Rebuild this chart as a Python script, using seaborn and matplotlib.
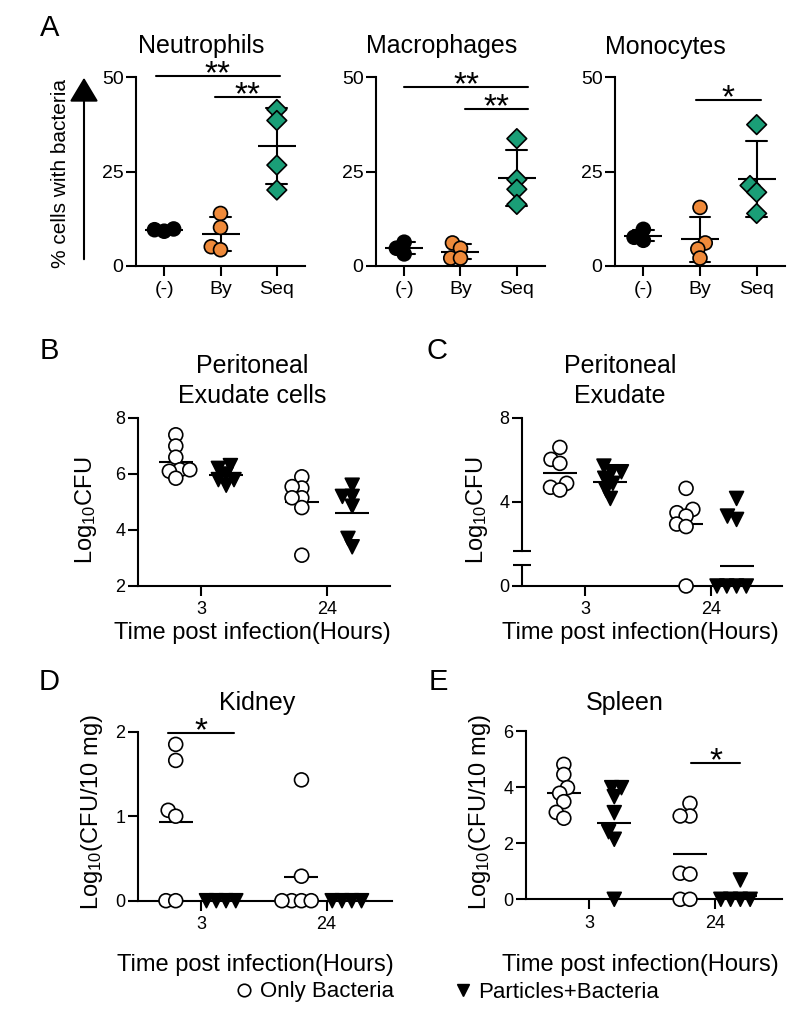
import numpy as np
import pandas as pd
import seaborn as sns
import matplotlib.pyplot as plt
from matplotlib.lines import Line2D
from matplotlib.patches import FancyArrowPatch

# ---- panel A: % cells with bacteria ----
cell_groups = ["(-)", "By", "Seq"]
neu_ctrl = [9.8, 9.2, 9.6]
neu_by = [13.9, 10.2, 5.1, 4.3]
neu_seq = [41.4, 38.5, 26.7, 20.1]
mac_ctrl = [6.3, 3.2, 4.7]
mac_by = [6.1, 4.7, 2.1, 2.1]
mac_seq = [33.7, 22.9, 20.3, 16.3]
mono_ctrl = [9.7, 6.8, 7.6]
mono_by = [15.5, 6.1, 4.5, 2.1]
mono_seq = [37.4, 21.3, 19.5, 13.9]

# ---- panels B-E: log10 CFU at 3 and 24 h ----
times = ["3", "24"]
treatments = ["Only Bacteria", "Particles+Bacteria"]

pec_bact_3 = [7.4, 7.0, 6.6, 6.15, 6.15, 6.1, 5.85]
pec_part_3 = [6.3, 6.2, 6.0, 5.8, 5.8, 5.6]
pec_bact_24 = [5.9, 5.5, 5.55, 5.15, 5.15, 4.8, 3.1]
pec_part_24 = [5.6, 5.2, 5.2, 4.85, 3.7, 3.4]
pec_means = [6.44, 5.97, 5.0, 4.6]

pe_bact_3 = [6.6, 6.03, 5.84, 4.89, 4.7, 4.57]
pe_part_3 = [5.71, 5.44, 5.44, 5.13, 4.89, 4.57, 4.17]
pe_bact_24 = [4.65, 3.65, 3.49, 3.33, 2.95, 2.83, 0]
pe_part_24 = [4.17, 3.33, 3.17, 0, 0, 0, 0]
pe_means = [5.37, 4.97, 2.95, 0.95]

kid_bact_3 = [1.85, 1.66, 1.07, 1.0, 0, 0]
kid_part_3 = [0, 0, 0, 0]
kid_bact_24 = [1.43, 0.29, 0, 0, 0, 0]
kid_part_24 = [0, 0, 0, 0]
kid_means = [0.93, 0, 0.28, 0]

spl_bact_3 = [4.81, 4.45, 3.98, 3.78, 3.48, 3.1, 2.89]
spl_part_3 = [3.98, 3.98, 3.66, 3.09, 2.41, 2.14, 0]
spl_bact_24 = [3.42, 2.97, 2.97, 0.93, 0.9, 0, 0]
spl_part_24 = [0.69, 0, 0, 0, 0]
spl_means = [3.78, 2.71, 1.62, 0.12]

cell_colors = {"(-)": "black", "By": "#EF8A3A", "Seq": "#1A9E77"}
treat_colors = {"Only Bacteria": "white", "Particles+Bacteria": "black"}

sns.set_theme(style="ticks")
plt.rcParams["font.family"] = ["Liberation Sans", "DejaVu Sans"]
plt.rcParams["mathtext.fontset"] = "custom"
plt.rcParams["mathtext.rm"] = "Liberation Sans"
plt.rcParams["mathtext.default"] = "regular"
plt.rcParams.update({"text.color": "black", "axes.labelcolor": "black",
                     "xtick.color": "black", "ytick.color": "black"})

W, H = 800, 1028
SWARM = 5.5    # marker size used to lay out the swarm
FINAL = 10     # marker size actually drawn (GraphPad-like overlap)

fig = plt.figure(figsize=(W / 100, H / 100), dpi=100)


def fx(px):
    return px / W


def fy(py):
    return 1 - py / H


def make_ax(x0, x1, ytop, ybot):
    return fig.add_axes([fx(x0), fy(ybot), (x1 - x0) / W, (ybot - ytop) / H])


def style_ax(ax, yticks, ylim, xlim, labelsize):
    sns.despine(ax=ax)
    for s in ("left", "bottom"):
        ax.spines[s].set_linewidth(1.5)
        ax.spines[s].set_color("black")
    ax.tick_params(width=1.5, length=7, colors="black", labelsize=labelsize)
    ax.tick_params(axis="y", pad=2)
    ax.tick_params(axis="x", pad=4)
    ax.set_yticks(yticks)
    ax.set_ylim(*ylim)
    ax.set_xlim(*xlim)
    ax.spines["left"].set_bounds(yticks[0], yticks[-1])
    ax.set_xlabel("")
    ax.set_ylabel("")


def sig_bar(ax, x0, x1, y, text):
    ax.plot([x0, x1], [y, y], color="black", lw=1.5, clip_on=False)
    ax.annotate(text, xy=((x0 + x1) / 2, y), xytext=(0, -5.5), textcoords="offset points",
                ha="center", va="baseline", fontsize=24, color="black",
                annotation_clip=False)


def cell_panel(ax, ctrl, by, seq, sigs):
    df = pd.DataFrame({
        "group": ["(-)"] * len(ctrl) + ["By"] * len(by) + ["Seq"] * len(seq),
        "value": ctrl + by + seq,
    })
    for sub, mk in [(df[df.group != "Seq"], "o"), (df[df.group == "Seq"], "D")]:
        sns.swarmplot(data=sub, x="group", y="value", hue="group", order=cell_groups,
                      hue_order=cell_groups, palette=cell_colors, marker=mk, size=SWARM,
                      edgecolor="black", linewidth=1.2, legend=False, ax=ax)
    # mean +/- SD
    sns.pointplot(data=df, x="group", y="value", order=cell_groups, errorbar="sd",
                  capsize=0.37, markers="_", markersize=28, markeredgewidth=1.5,
                  linestyle="none", color="black", err_kws={"linewidth": 1.5}, ax=ax)
    style_ax(ax, [0, 25, 50], (0, 50), (-0.5, 2.5), 14)
    for x0, x1, y, t in sigs:
        sig_bar(ax, x0, x1, y, t)


def time_panel(ax, b3, p3, b24, p24, means, yticks, xlim):
    df = pd.DataFrame({
        "time": ["3"] * (len(b3) + len(p3)) + ["24"] * (len(b24) + len(p24)),
        "group": [treatments[0]] * len(b3) + [treatments[1]] * len(p3)
                 + [treatments[0]] * len(b24) + [treatments[1]] * len(p24),
        "value": b3 + p3 + b24 + p24,
    })
    for grp, mk in zip(treatments, ["o", "v"]):
        sns.swarmplot(data=df[df.group == grp], x="time", y="value", hue="group",
                      order=times, hue_order=treatments, dodge=True, palette=treat_colors,
                      marker=mk, size=SWARM, edgecolor="black", linewidth=1.2,
                      legend=False, ax=ax)
    # group means
    mdf = pd.DataFrame({"time": ["3", "3", "24", "24"], "group": treatments * 2,
                        "value": means})
    sns.pointplot(data=mdf, x="time", y="value", hue="group", order=times,
                  hue_order=treatments, dodge=0.4, palette={t: "black" for t in treatments},
                  markers="_", markersize=25, markeredgewidth=1.5, linestyle="none",
                  errorbar=None, legend=False, ax=ax)
    style_ax(ax, yticks, (yticks[0], yticks[-1]), xlim, 13)


# ---- panel A ----
ax_neu = make_ax(136, 305, 77, 266)
cell_panel(ax_neu, neu_ctrl, neu_by, neu_seq, [(-0.15, 2.05, 50.3, "**"), (0.9, 2.05, 44.7, "**")])
ax_mac = make_ax(376, 545, 77, 266)
cell_panel(ax_mac, mac_ctrl, mac_by, mac_seq, [(0.0, 2.2, 47.4, "**"), (1.08, 2.2, 41.6, "**")])
ax_mono = make_ax(615, 785, 77, 266)
cell_panel(ax_mono, mono_ctrl, mono_by, mono_seq, [(0.93, 2.07, 43.9, "*")])

# ---- panels B-E ----
ax_b = make_ax(138, 390, 418, 586)
time_panel(ax_b, pec_bact_3, pec_part_3, pec_bact_24, pec_part_24, pec_means, [2, 4, 6, 8], (-0.5, 1.5))
ax_c = make_ax(522, 782, 418, 586)
time_panel(ax_c, pe_bact_3, pe_part_3, pe_bact_24, pe_part_24, pe_means, [0, 4, 8], (-0.5, 1.56))
ax_d = make_ax(138, 392, 731.7, 900.7)
time_panel(ax_d, kid_bact_3, kid_part_3, kid_bact_24, kid_part_24, kid_means, [0, 1, 2], (-0.5, 1.52))
ax_e = make_ax(526, 782, 731, 899.3)
time_panel(ax_e, spl_bact_3, spl_part_3, spl_bact_24, spl_part_24, spl_means, [0, 2, 4, 6], (-0.5, 1.53))

# broken y axis on panel C
ax_c.spines["left"].set_bounds(1.67, 8)
xl = ax_c.get_xlim()[0]
ax_c.plot([xl, xl], [0, 1.0], color="black", lw=1.5, clip_on=False)
ax_c.plot([xl, xl], [1.67, 1.0], ls="none", marker="_", ms=13, mew=1.5, color="black", clip_on=False)

sig_bar(ax_d, -0.26, 0.26, 1.99, "*")
sig_bar(ax_e, 0.81, 1.2, 4.87, "*")

# ---- titles, labels, panel letters ----
for txt, x, y in [("A", 50, 28), ("B", 49, 351), ("C", 437, 351), ("D", 49, 682), ("E", 438, 682)]:
    fig.text(fx(x), fy(y), txt, fontsize=21, ha="center", va="center")

for txt, x, y in [("Neutrophils", 201, 46), ("Macrophages", 442, 46), ("Monocytes", 665, 47),
                  ("Peritoneal\nExudate cells", 252, 381), ("Peritoneal\nExudate", 620, 381),
                  ("Kidney", 257, 703), ("Spleen", 625, 703)]:
    fig.text(fx(x), fy(y), txt, fontsize=18, ha="center", va="center", linespacing=1.35)

for x, y in [(252, 633), (640, 633), (255, 965), (640, 965)]:
    fig.text(fx(x), fy(y), "Time post infection(Hours)", fontsize=17, ha="center", va="center")

fig.text(fx(60), fy(173), "% cells with bacteria", fontsize=15, rotation=90, ha="center", va="center")
fig.text(fx(86), fy(510), "Log$_{10}$CFU", fontsize=17, rotation=90, ha="center", va="center")
fig.text(fx(477), fy(510), "Log$_{10}$CFU", fontsize=17, rotation=90, ha="center", va="center")
fig.text(fx(92), fy(812), "Log$_{10}$(CFU/10 mg)", fontsize=17, rotation=90, ha="center", va="center")
fig.text(fx(480), fy(812), "Log$_{10}$(CFU/10 mg)", fontsize=17, rotation=90, ha="center", va="center")

fig.add_artist(FancyArrowPatch((fx(84), fy(262)), (fx(84), fy(75)), transform=fig.transFigure,
                               arrowstyle="-|>,head_length=1.0,head_width=0.6",
                               mutation_scale=15, lw=1.5, color="black"))

handles = [
    Line2D([], [], marker="o", ls="none", mfc="white", mec="black", ms=9, mew=1.2, label=treatments[0]),
    Line2D([], [], marker="v", ls="none", mfc="black", mec="black", ms=9, label=treatments[1]),
]
fig.legend(handles=handles, loc="center", bbox_to_anchor=(fx(446), fy(992)), ncol=2,
           frameon=False, fontsize=16, handletextpad=0.2, columnspacing=2.6, handlelength=1.0)

# lay out the swarms with the small size, then draw them larger so they overlap like GraphPad
fig.canvas.draw()
for ax in [ax_neu, ax_mac, ax_mono, ax_b, ax_c, ax_d, ax_e]:
    for coll in ax.collections:
        if "draw" in coll.__dict__:
            del coll.draw
        if len(coll.get_offsets()) > 0:
            coll.set_sizes([FINAL ** 2])
            coll.set_clip_on(False)

fig.savefig("out.png", dpi=100)
